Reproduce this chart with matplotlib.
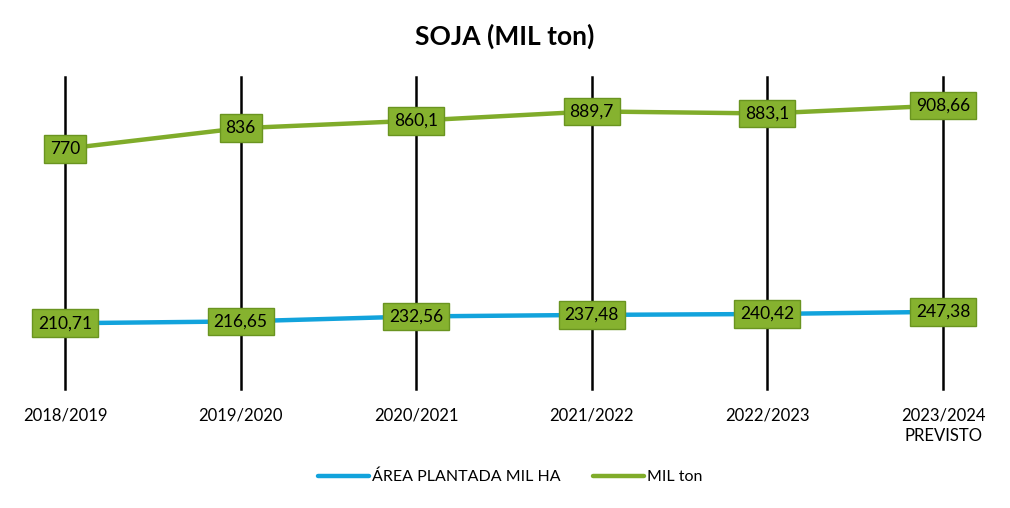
import matplotlib.pyplot as plt

plt.rcParams['font.family'] = ['Lato', 'DejaVu Sans']

safras = ["2018/2019", "2019/2020", "2020/2021", "2021/2022", "2022/2023", "2023/2024\nPREVISTO"]
area_mil_ha = [210.71, 216.65, 232.56, 237.48, 240.42, 247.38]
mil_ton = [770, 836, 860.1, 889.7, 883.1, 908.66]

W, H = 1010, 508
fig = plt.figure(figsize=(W / 100, H / 100), dpi=100)
ax = fig.add_axes([65 / W, 1 - 389 / H, (943 - 65) / W, (389 - 77) / H])

x = list(range(len(safras)))
ax.plot(x, area_mil_ha, color="#12a3dc", lw=3.2, solid_capstyle="round", label="ÁREA PLANTADA MIL HA", zorder=3)
ax.plot(x, mil_ton, color="#80ac2a", lw=3.2, solid_capstyle="round", label="MIL ton", zorder=3)

# vertical lines at each safra
for xi in x:
    ax.axvline(xi, color="black", lw=1.8, clip_on=False, zorder=1)

# labels in green boxes
box = dict(boxstyle="square,pad=0.34", fc="#86b22f", ec="#6a9420", lw=1)
for xi, v in zip(x, area_mil_ha):
    ax.text(xi, v, f"{v:.2f}".replace(".", ","), ha="center", va="center", fontsize=12.5, color="black", bbox=box, zorder=5)
for xi, v in zip(x, mil_ton):
    s = f"{v:g}".replace(".", ",")
    ax.text(xi, v, s, ha="center", va="center", fontsize=12.5, color="black", bbox=box, zorder=5)

ax.set_xlim(0, 5)
ax.set_ylim(0, 1000)
ax.set_xticks(x)
ax.set_xticklabels(safras, fontsize=12, linespacing=1.4)
ax.set_yticks([])
ax.tick_params(axis="x", length=0, pad=13)
for s in ax.spines.values():
    s.set_visible(False)

fig.text(0.5, 1 - 36 / H, "SOJA (MIL ton)", ha="center", va="center", fontsize=19, fontweight="bold")
fig.legend(loc="center", bbox_to_anchor=(0.505, 1 - 477 / H), ncol=2, frameon=False, fontsize=11.5,
           handlelength=3.2, handletextpad=0.2, columnspacing=2.0)

fig.savefig("out.png", dpi=100)
